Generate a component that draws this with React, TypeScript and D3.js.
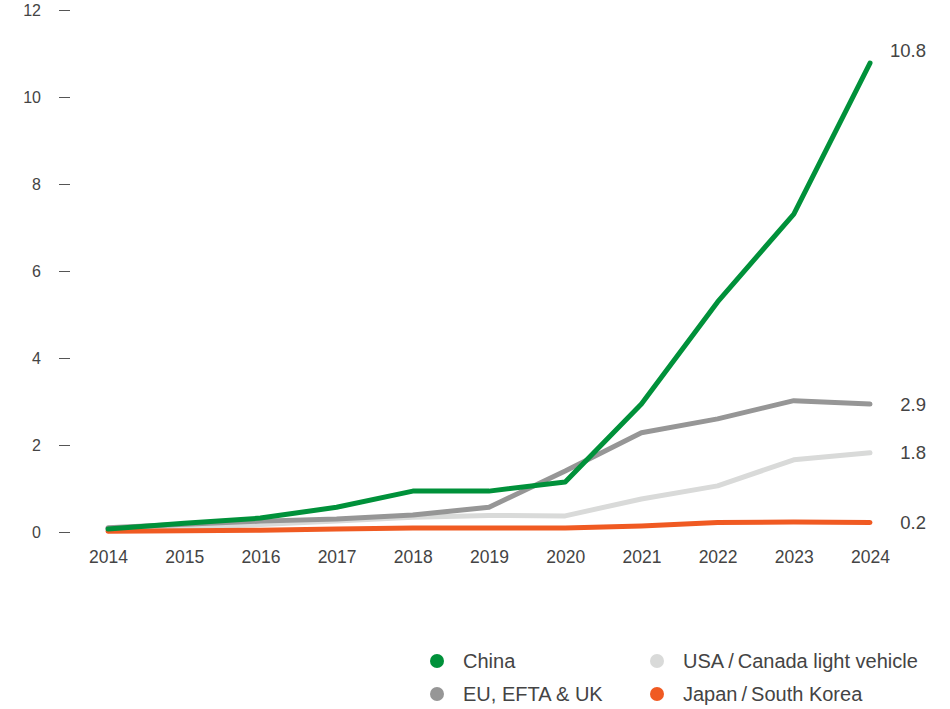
import * as d3 from "d3";
import { useEffect, useRef } from "react";

const years = [2014, 2015, 2016, 2017, 2018, 2019, 2020, 2021, 2022, 2023, 2024];
const china = [0.07, 0.2, 0.32, 0.57, 0.94, 0.94, 1.15, 2.94, 5.29, 7.31, 10.78];
const euEftaUk = [0.1, 0.18, 0.25, 0.3, 0.39, 0.57, 1.4, 2.28, 2.6, 3.02, 2.94];
const usaCanada = [0.07, 0.1, 0.17, 0.25, 0.34, 0.38, 0.37, 0.76, 1.06, 1.66, 1.82];
const japanKorea = [0.02, 0.03, 0.04, 0.07, 0.09, 0.09, 0.09, 0.14, 0.22, 0.23, 0.22];
const endLabels = ["10.8", "2.9", "1.8", "0.2"];
const yTicks = [0, 2, 4, 6, 8, 10, 12];

const series = [
  { name: "USA\u2009/\u2009Canada light vehicle", values: usaCanada, color: "#d9dad9", label: endLabels[2], dy: 0 },
  { name: "Japan\u2009/\u2009South Korea", values: japanKorea, color: "#f05a22", label: endLabels[3], dy: 0 },
  { name: "EU, EFTA & UK", values: euEftaUk, color: "#969696", label: endLabels[1], dy: 0 },
  { name: "China", values: china, color: "#00913a", label: endLabels[0], dy: -13 },
];

const legendOrder = [3, 0, 2, 1];

export default function App() {
  const svgRef = useRef<SVGSVGElement | null>(null);

  useEffect(() => {
    if (!svgRef.current) return;
    const width = 950;
    const height = 709;
    const font = "'Liberation Sans', Arial, sans-serif";

    const svg = d3.select(svgRef.current).attr("width", width).attr("height", height);
    svg.selectAll("*").remove();

    const x = d3.scaleLinear().domain([2014, 2024]).range([108, 870]);
    const y = d3.scaleLinear().domain([0, 12]).range([532, 10]);

    // y axis: only short dashes + labels
    const yAxis = svg.append("g").attr("transform", "translate(70,0)")
      .call(d3.axisLeft(y).tickValues(yTicks).tickSize(11).tickPadding(18).tickFormat(d3.format("d")))
      .call(g => g.select(".domain").remove());
    yAxis.selectAll("line").attr("stroke", "#555").attr("stroke-width", 1);
    yAxis.selectAll("text").attr("fill", "#444").style("font-family", font).style("font-size", "16px");

    const xAxis = svg.append("g").attr("transform", "translate(0,532)")
      .call(d3.axisBottom(x).tickValues(years).tickSize(0).tickPadding(19).tickFormat(d3.format("d")))
      .call(g => g.select(".domain").remove());
    xAxis.selectAll("text").attr("fill", "#444").style("font-family", font).style("font-size", "17.5px");

    const line = d3.line<number>()
      .x((_, i) => x(years[i]))
      .y(d => y(d));

    series.forEach(s => {
      svg.append("path")
        .datum(s.values)
        .attr("fill", "none")
        .attr("stroke", s.color)
        .attr("stroke-width", 5)
        .attr("stroke-linecap", "round")
        .attr("stroke-linejoin", "round")
        .attr("d", line);

      const last = s.values[s.values.length - 1];
      svg.append("text")
        .attr("x", 926)
        .attr("y", y(last) + s.dy)
        .attr("dy", "0.35em")
        .attr("text-anchor", "end")
        .attr("fill", "#444")
        .style("font-family", font)
        .style("font-size", "18.5px")
        .text(s.label);
    });

    // legend in two columns
    const legend = svg.append("g");
    legendOrder.forEach((idx, i) => {
      const s = series[idx];
      const lx = i % 2 === 0 ? 437 : 657;
      const ly = i < 2 ? 661 : 694;
      legend.append("circle").attr("cx", lx).attr("cy", ly).attr("r", 7).attr("fill", s.color);
      legend.append("text")
        .attr("x", lx + 26)
        .attr("y", ly)
        .attr("dy", "0.35em")
        .attr("fill", "#444")
        .style("font-family", font)
        .style("font-size", "20px")
        .text(s.name);
    });
  }, []);

  return (
    <div style={{ position: "absolute", left: 0, top: 0 }}>
      <svg ref={svgRef}></svg>
    </div>
  );
}
